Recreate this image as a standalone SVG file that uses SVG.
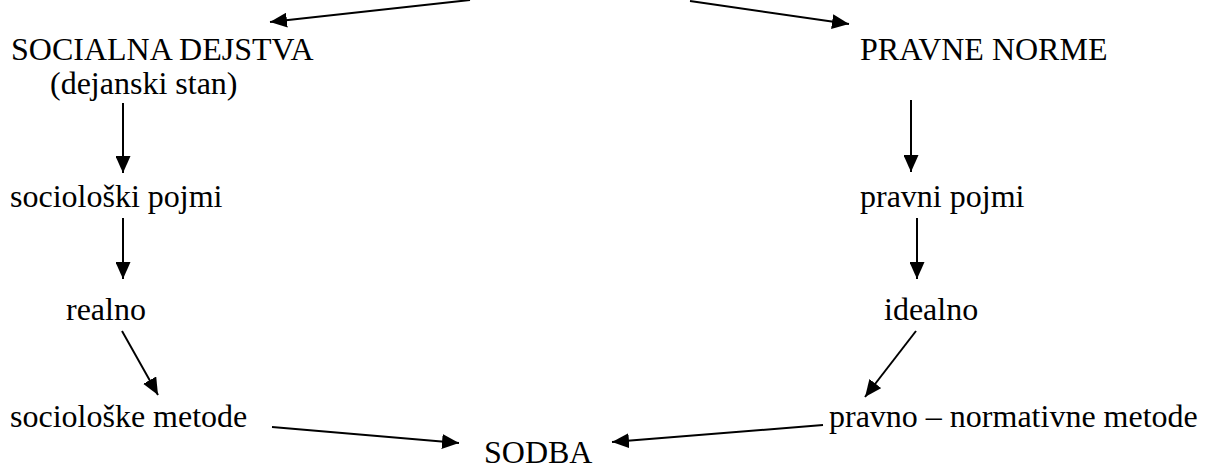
<svg xmlns="http://www.w3.org/2000/svg" width="1208" height="469" viewBox="0 0 1208 469">
<style>
text{font-family:"Liberation Serif","Times New Roman",serif;font-size:32px;fill:#000}
.c line{stroke:#000;stroke-width:2;marker-end:url(#ah)}
</style>
<defs>
<marker id="ah" markerUnits="userSpaceOnUse" markerWidth="18" markerHeight="15" refX="17" refY="7.5" orient="auto">
<path d="M0,0 L17,7.5 L0,15 z" fill="#000"/>
</marker>
</defs>
<rect width="1208" height="469" fill="#fff"/>
<g id="n-socialna"><text x="11" y="60">SOCIALNA DEJSTVA</text><text x="50" y="94">(dejanski stan)</text></g>
<g id="n-socpojmi"><text x="10" y="207">sociološki pojmi</text></g>
<g id="n-realno"><text x="66" y="320">realno</text></g>
<g id="n-socmetode"><text x="10" y="427">sociološke metode</text></g>
<g id="n-sodba"><text x="484" y="463">SODBA</text></g>
<g id="n-pravne"><text x="860" y="60">PRAVNE NORME</text></g>
<g id="n-pravpojmi"><text x="860" y="207">pravni pojmi</text></g>
<g id="n-idealno"><text x="884" y="320">idealno</text></g>
<g id="n-pravmetode"><text x="829" y="427">pravno – normativne metode</text></g>
<g id="connectors" class="c">
<line x1="470" y1="0" x2="270" y2="22"/>
<line x1="690" y1="1" x2="849" y2="24"/>
<line x1="123" y1="103" x2="123" y2="173"/>
<line x1="123" y1="218" x2="123" y2="279"/>
<line x1="122" y1="331" x2="158" y2="395"/>
<line x1="272" y1="427" x2="459" y2="443"/>
<line x1="911" y1="100" x2="911" y2="172"/>
<line x1="917" y1="218" x2="917" y2="279"/>
<line x1="916" y1="331" x2="865" y2="397"/>
<line x1="823" y1="425" x2="612" y2="442"/>
</g>
</svg>
